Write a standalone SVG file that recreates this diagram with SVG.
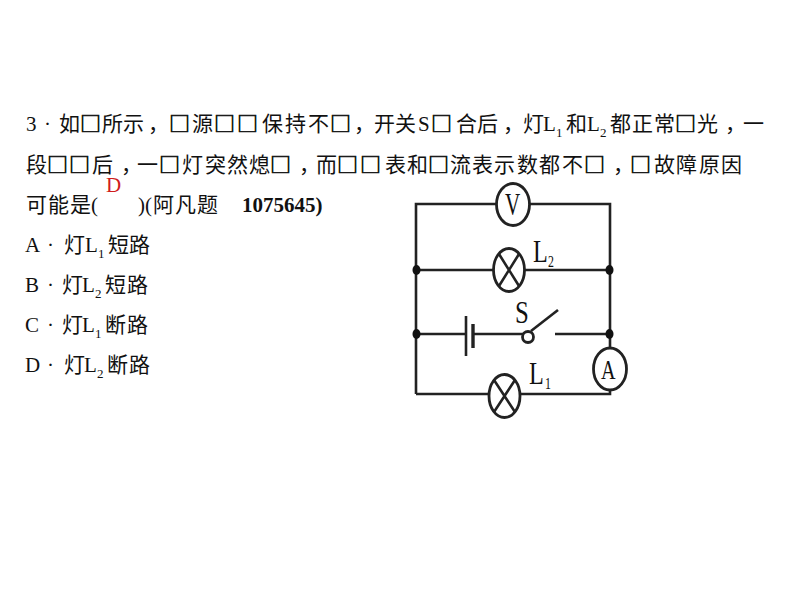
<svg xmlns="http://www.w3.org/2000/svg" width="800" height="600" viewBox="0 0 800 600">
<style>
text{font-family:"Liberation Serif","Noto Sans CJK SC",serif;font-size:21px;fill:#111}
.cjk{font-family:"Noto Sans CJK SC","Liberation Serif",sans-serif}
.x{stroke:#111;stroke-width:.7}
.sub{font-family:"Liberation Serif",serif;font-size:13px}
.b{font-weight:bold}
.ans{fill:#d01c1c}
.w{fill:none;stroke:#222;stroke-width:2.6}
.e{fill:#fff;stroke:#222;stroke-width:2.8}
.d{fill:#111}
.lab{font-family:"Liberation Serif",serif;font-size:31px}
.lsub{font-family:"Liberation Serif",serif;font-size:17px}
</style>
<rect width="800" height="600" fill="#fff"/>
<g id="question">
<text y="131" x="26">3</text><text y="131" x="44">·</text>
<text class="cjk" y="131" x="59 80 102 123 148 169 192 214 237 262 285 308 330 354 374 395">如<tspan class="x">□</tspan>所示，<tspan class="x">□</tspan>源<tspan class="x">□□</tspan>保持不<tspan class="x">□</tspan>，开关</text>
<text y="131" x="418">S</text>
<text class="cjk" y="131" x="431 456 477 503 523"><tspan class="x">□</tspan>合后，灯</text>
<text y="131" x="543">L</text><text class="sub" y="137" x="556">1</text>
<text class="cjk" y="131" x="566">和</text>
<text y="131" x="587">L</text><text class="sub" y="137" x="600">2</text>
<text class="cjk" y="131" x="610 632 654 675 697 725 743">都正常<tspan class="x">□</tspan>光，一</text>
<text class="cjk" y="172" x="26 47 69 92 121 137 159 182 205 227 249 270 299 316 337 360 385 407 428 450 472 494 517 539 562 584 613 630 654 676 699 721">段<tspan class="x">□□</tspan>后，一<tspan class="x">□</tspan>灯突然熄<tspan class="x">□</tspan>，而<tspan class="x">□□</tspan>表和<tspan class="x">□</tspan>流表示数都不<tspan class="x">□</tspan>，<tspan class="x">□</tspan>故障原因</text>
<text class="cjk" y="212" x="26 48 70">可能是</text>
<text y="212" x="91">(</text>
<text y="212" x="138">)</text><text y="212" x="145">(</text>
<text class="cjk" y="212" x="153 175 197">阿凡题</text>
<text class="b" y="212" x="242">1075645)</text>
<text class="ans" y="192" x="106">D</text>
</g>
<g id="options">
<text y="252" x="25">A</text><text y="252" x="47">·</text><text class="cjk" y="252" x="64">灯</text><text y="252" x="85">L</text><text class="sub" y="258" x="98">1</text><text class="cjk" y="252" x="108 129">短路</text>
<text y="292" x="25">B</text><text y="292" x="47">·</text><text class="cjk" y="292" x="62">灯</text><text y="292" x="82">L</text><text class="sub" y="298" x="95">2</text><text class="cjk" y="292" x="105 127">短路</text>
<text y="332" x="25">C</text><text y="332" x="47">·</text><text class="cjk" y="332" x="62">灯</text><text y="332" x="82">L</text><text class="sub" y="338" x="95">1</text><text class="cjk" y="332" x="105 127">断路</text>
<text y="372" x="25">D</text><text y="372" x="47">·</text><text class="cjk" y="372" x="64">灯</text><text y="372" x="84">L</text><text class="sub" y="378" x="97">2</text><text class="cjk" y="372" x="107 129">断路</text>
</g>
<g id="connectors">
<path class="w" d="M416 394V204H610V394H416"/>
<path class="w" d="M416 270H610"/>
<path class="w" d="M416 334H466M473 334H523M555 334H610"/>
<path class="w" d="M531 331L558 310"/>
</g>
<g id="junctions">
<ellipse class="d" cx="416.500" cy="270" rx="4" ry="5"/><ellipse class="d" cx="609.500" cy="270" rx="4" ry="5"/>
<ellipse class="d" cx="416.500" cy="334" rx="4" ry="5"/><ellipse class="d" cx="609.500" cy="334" rx="4" ry="5"/>
</g>
<g id="voltmeter">
<ellipse class="e" cx="513" cy="204.500" rx="16.500" ry="21"/>
<text class="lab" transform="translate(505 215) scale(.68 1)" x="0" y="0">V</text>
</g>
<g id="lamp-L2">
<ellipse class="e" cx="509" cy="270" rx="15.500" ry="21.500"/>
<path class="w" d="M499 254L519 286M519 254L499 286"/>
<text class="lab" transform="translate(533 262) scale(.78 1)" x="0" y="0">L</text>
<text class="lsub" transform="translate(548 267) scale(.7 1)" x="0" y="0">2</text>
</g>
<g id="battery">
<path class="w" d="M466 316V356"/>
<path class="w" style="stroke-width:3.400" d="M473 324V348"/>
</g>
<g id="switch-S">
<circle class="e" cx="528" cy="337" r="5.500"/>
<text class="lab" transform="translate(515 323) scale(.8 1)" x="0" y="0">S</text>
</g>
<g id="ammeter">
<ellipse class="e" cx="610" cy="369" rx="16.500" ry="21"/>
<text class="lab" transform="translate(601 379) scale(.65 .9)" x="0" y="0">A</text>
</g>
<g id="lamp-L1">
<ellipse class="e" cx="504.500" cy="396" rx="15.500" ry="21.500"/>
<path class="w" d="M494 380L515 412M515 380L494 412"/>
<text class="lab" transform="translate(529 384) scale(.78 1)" x="0" y="0">L</text>
<text class="lsub" transform="translate(545 389) scale(.7 1)" x="0" y="0">1</text>
</g>
</svg>
